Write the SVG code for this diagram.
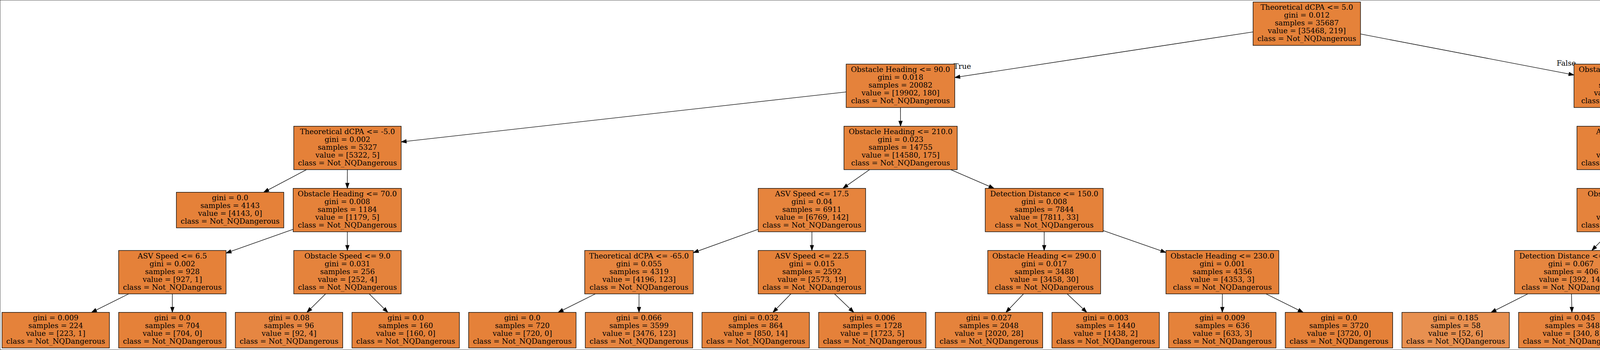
<svg xmlns="http://www.w3.org/2000/svg" width="5960" height="895" viewBox="0 0 5960 895">
<style>
text{font-family:"DejaVu Serif",serif;font-size:18.67px;text-anchor:middle;fill:#000}
rect{stroke:#000;stroke-width:1.33}
.e{fill:none;stroke:#000;stroke-width:1.33;marker-end:url(#ah)}
.lbl{text-anchor:start}
</style>
<defs>
<marker id="ah" markerUnits="userSpaceOnUse" markerWidth="13.3" markerHeight="9.34" refX="13.3" refY="4.67" orient="auto" viewBox="0 0 13.3 9.34" overflow="visible"><path d="M0,0L13.3,4.67L0,9.34z" fill="#000" stroke="#000" stroke-width="1"/></marker>
</defs>
<rect x="0" y="0" width="5960" height="895" fill="#fff" stroke="none"/>
<g id="edges">
<path class="e" d="M3207.9,81.6L2444.2,198.2"/>
<path class="e" d="M3482.9,86.95L4029.4,191.67"/>
<path class="e" d="M2166.2,235.05L1027,362.87"/>
<path class="e" d="M2305.3,274.95L2305.4,322.8"/>
<path class="e" d="M784.5,433.8L675.07,491.65"/>
<path class="e" d="M889.3,433.8L889.2,481.65"/>
<path class="e" d="M750.5,586.28L578.7,647.22"/>
<path class="e" d="M889.2,592.65L889.3,640.5"/>
<path class="e" d="M329.45,751.5L234.21,798.8"/>
<path class="e" d="M441.2,751.5L441.25,798.8"/>
<path class="e" d="M833.51,751.5L785.8,798.8"/>
<path class="e" d="M945.28,751.5L992.82,798.8"/>
<path class="e" d="M2226.19,433.8L2157.81,481.65"/>
<path class="e" d="M2433.97,433.8L2544.73,481.65"/>
<path class="e" d="M1941,586.49L1774.85,646.12"/>
<path class="e" d="M2078.5,592.65L2078.5,640.5"/>
<path class="e" d="M1524.08,751.5L1428.83,798.8"/>
<path class="e" d="M1635.85,751.5L1635.85,798.8"/>
<path class="e" d="M2024.61,751.5L1978.68,798.8"/>
<path class="e" d="M2136.38,751.5L2185.7,798.8"/>
<path class="e" d="M2673.2,592.65L2673.1,640.5"/>
<path class="e" d="M2824.2,589.74L2984.8,645.67"/>
<path class="e" d="M2620.22,751.5L2575.15,798.8"/>
<path class="e" d="M2731.99,751.5L2782.17,798.8"/>
<path class="e" d="M3129.3,751.5L3129.1,798.8"/>
<path class="e" d="M3240.99,751.5L3336.18,798.8"/>
<path class="e" d="M4174.4,274.95L4174.5,322.8"/>
<path class="e" d="M4278.69,274.95L4387.4,332.8"/>
<path class="e" d="M4174.5,433.8L4174.5,481.65"/>
<path class="e" d="M4312,431.4C4462,467.4 4718.5,507 4931.5,524.6"/>
<path class="e" d="M4121.15,592.65L4075.15,640.5"/>
<path class="e" d="M4228.17,592.65L4274.43,640.5"/>
<path class="e" d="M3911.25,751.5L3817.03,798.8"/>
<path class="e" d="M4023.02,751.5L4024.05,798.8"/>
<path class="e" d="M4326.45,751.5L4325.05,798.8"/>
<path class="e" d="M4438.22,751.5L4532.07,798.8"/>
<path class="e" d="M5069,592.65L5069,640.5"/>
<path class="e" d="M5206.5,585.76L5380.8,647.39"/>
<path class="e" d="M5013.61,751.5L4966.41,798.8"/>
<path class="e" d="M5125.38,751.5L5173.43,798.8"/>
<path class="e" d="M5518.3,751.5L5518.3,798.8"/>
<path class="e" d="M5630.07,751.5L5725.32,798.8"/>
<text class="lbl" x="2441.3" y="176">True</text>
<text class="lbl" x="3985" y="168">False</text>
</g>
<g id="node0"><rect x="3207.9" y="5.1" width="275" height="111" fill="#e5823a"/><text y="25.4"><tspan x="3345.4">Theoretical dCPA &lt;= 5.0</tspan><tspan x="3345.4" dy="20">gini = 0.012</tspan><tspan x="3345.4" dy="20">samples = 35687</tspan><tspan x="3345.4" dy="20">value = [35468, 219]</tspan><tspan x="3345.4" dy="20">class = Not_NQDangerous</tspan></text></g>
<g id="node1"><rect x="2166.2" y="163.95" width="278" height="111" fill="#e5823b"/><text y="184.25"><tspan x="2305.2">Obstacle Heading &lt;= 90.0</tspan><tspan x="2305.2" dy="20">gini = 0.018</tspan><tspan x="2305.2" dy="20">samples = 20082</tspan><tspan x="2305.2" dy="20">value = [19902, 180]</tspan><tspan x="2305.2" dy="20">class = Not_NQDangerous</tspan></text></g>
<g id="node26"><rect x="4029.4" y="163.95" width="290" height="111" fill="#e58139"/><text y="184.25"><tspan x="4174.4">Obstacle Heading &lt;= 210.0</tspan><tspan x="4174.4" dy="20">gini = 0.005</tspan><tspan x="4174.4" dy="20">samples = 15605</tspan><tspan x="4174.4" dy="20">value = [15566, 39]</tspan><tspan x="4174.4" dy="20">class = Not_NQDangerous</tspan></text></g>
<g id="node2"><rect x="752" y="322.8" width="275" height="111" fill="#e58139"/><text y="343.1"><tspan x="889.5">Theoretical dCPA &lt;= -5.0</tspan><tspan x="889.5" dy="20">gini = 0.002</tspan><tspan x="889.5" dy="20">samples = 5327</tspan><tspan x="889.5" dy="20">value = [5322, 5]</tspan><tspan x="889.5" dy="20">class = Not_NQDangerous</tspan></text></g>
<g id="node11"><rect x="2160.5" y="322.8" width="290" height="111" fill="#e5833b"/><text y="343.1"><tspan x="2305.5">Obstacle Heading &lt;= 210.0</tspan><tspan x="2305.5" dy="20">gini = 0.023</tspan><tspan x="2305.5" dy="20">samples = 14755</tspan><tspan x="2305.5" dy="20">value = [14580, 175]</tspan><tspan x="2305.5" dy="20">class = Not_NQDangerous</tspan></text></g>
<g id="node27"><rect x="4037" y="322.8" width="275" height="111" fill="#e5823a"/><text y="343.1"><tspan x="4174.5">ASV Speed &lt;= 4.0</tspan><tspan x="4174.5" dy="20">gini = 0.008</tspan><tspan x="4174.5" dy="20">samples = 9517</tspan><tspan x="4174.5" dy="20">value = [9478, 39]</tspan><tspan x="4174.5" dy="20">class = Not_NQDangerous</tspan></text></g>
<g id="node42"><rect x="4335.4" y="332.8" width="275" height="91" fill="#e58139"/><text y="353.1"><tspan x="4472.9">gini = 0.0</tspan><tspan x="4472.9" dy="20">samples = 6088</tspan><tspan x="4472.9" dy="20">value = [6088, 0]</tspan><tspan x="4472.9" dy="20">class = Not_NQDangerous</tspan></text></g>
<g id="node3"><rect x="451.5" y="491.65" width="275" height="91" fill="#e58139"/><text y="511.95"><tspan x="589">gini = 0.0</tspan><tspan x="589" dy="20">samples = 4143</tspan><tspan x="589" dy="20">value = [4143, 0]</tspan><tspan x="589" dy="20">class = Not_NQDangerous</tspan></text></g>
<g id="node4"><rect x="750.5" y="481.65" width="277" height="111" fill="#e5823a"/><text y="501.95"><tspan x="889">Obstacle Heading &lt;= 70.0</tspan><tspan x="889" dy="20">gini = 0.008</tspan><tspan x="889" dy="20">samples = 1184</tspan><tspan x="889" dy="20">value = [1179, 5]</tspan><tspan x="889" dy="20">class = Not_NQDangerous</tspan></text></g>
<g id="node12"><rect x="1941" y="481.65" width="275" height="111" fill="#e6843d"/><text y="501.95"><tspan x="2078.5">ASV Speed &lt;= 17.5</tspan><tspan x="2078.5" dy="20">gini = 0.04</tspan><tspan x="2078.5" dy="20">samples = 6911</tspan><tspan x="2078.5" dy="20">value = [6769, 142]</tspan><tspan x="2078.5" dy="20">class = Not_NQDangerous</tspan></text></g>
<g id="node19"><rect x="2522.2" y="481.65" width="302" height="111" fill="#e5823a"/><text y="501.95"><tspan x="2673.2">Detection Distance &lt;= 150.0</tspan><tspan x="2673.2" dy="20">gini = 0.008</tspan><tspan x="2673.2" dy="20">samples = 7844</tspan><tspan x="2673.2" dy="20">value = [7811, 33]</tspan><tspan x="2673.2" dy="20">class = Not_NQDangerous</tspan></text></g>
<g id="node28"><rect x="4037" y="481.65" width="275" height="111" fill="#e5833c"/><text y="501.95"><tspan x="4174.5">Obstacle Speed &lt;= 9.0</tspan><tspan x="4174.5" dy="20">gini = 0.025</tspan><tspan x="4174.5" dy="20">samples = 1176</tspan><tspan x="4174.5" dy="20">value = [1161, 15]</tspan><tspan x="4174.5" dy="20">class = Not_NQDangerous</tspan></text></g>
<g id="node35"><rect x="4931.5" y="481.65" width="275" height="111" fill="#e5813a"/><text y="501.95"><tspan x="5069">Theoretical dCPA &lt;= 35.0</tspan><tspan x="5069" dy="20">gini = 0.006</tspan><tspan x="5069" dy="20">samples = 8341</tspan><tspan x="5069" dy="20">value = [8317, 24]</tspan><tspan x="5069" dy="20">class = Not_NQDangerous</tspan></text></g>
<g id="node5"><rect x="303.7" y="640.5" width="275" height="111" fill="#e58139"/><text y="660.8"><tspan x="441.2">ASV Speed &lt;= 6.5</tspan><tspan x="441.2" dy="20">gini = 0.002</tspan><tspan x="441.2" dy="20">samples = 928</tspan><tspan x="441.2" dy="20">value = [927, 1]</tspan><tspan x="441.2" dy="20">class = Not_NQDangerous</tspan></text></g>
<g id="node8"><rect x="752" y="640.5" width="275" height="111" fill="#e5833c"/><text y="660.8"><tspan x="889.5">Obstacle Speed &lt;= 9.0</tspan><tspan x="889.5" dy="20">gini = 0.031</tspan><tspan x="889.5" dy="20">samples = 256</tspan><tspan x="889.5" dy="20">value = [252, 4]</tspan><tspan x="889.5" dy="20">class = Not_NQDangerous</tspan></text></g>
<g id="node13"><rect x="1496.85" y="640.5" width="278" height="111" fill="#e6853f"/><text y="660.8"><tspan x="1635.85">Theoretical dCPA &lt;= -65.0</tspan><tspan x="1635.85" dy="20">gini = 0.055</tspan><tspan x="1635.85" dy="20">samples = 4319</tspan><tspan x="1635.85" dy="20">value = [4196, 123]</tspan><tspan x="1635.85" dy="20">class = Not_NQDangerous</tspan></text></g>
<g id="node16"><rect x="1941" y="640.5" width="275" height="111" fill="#e5823a"/><text y="660.8"><tspan x="2078.5">ASV Speed &lt;= 22.5</tspan><tspan x="2078.5" dy="20">gini = 0.015</tspan><tspan x="2078.5" dy="20">samples = 2592</tspan><tspan x="2078.5" dy="20">value = [2573, 19]</tspan><tspan x="2078.5" dy="20">class = Not_NQDangerous</tspan></text></g>
<g id="node20"><rect x="2528.6" y="640.5" width="289" height="111" fill="#e5823b"/><text y="660.8"><tspan x="2673.1">Obstacle Heading &lt;= 290.0</tspan><tspan x="2673.1" dy="20">gini = 0.017</tspan><tspan x="2673.1" dy="20">samples = 3488</tspan><tspan x="2673.1" dy="20">value = [3458, 30]</tspan><tspan x="2673.1" dy="20">class = Not_NQDangerous</tspan></text></g>
<g id="node23"><rect x="2984.8" y="640.5" width="289" height="111" fill="#e58139"/><text y="660.8"><tspan x="3129.3">Obstacle Heading &lt;= 230.0</tspan><tspan x="3129.3" dy="20">gini = 0.001</tspan><tspan x="3129.3" dy="20">samples = 4356</tspan><tspan x="3129.3" dy="20">value = [4353, 3]</tspan><tspan x="3129.3" dy="20">class = Not_NQDangerous</tspan></text></g>
<g id="node29"><rect x="3877.3" y="640.5" width="289" height="111" fill="#e68640"/><text y="660.8"><tspan x="4021.8">Detection Distance &lt;= 75.0</tspan><tspan x="4021.8" dy="20">gini = 0.067</tspan><tspan x="4021.8" dy="20">samples = 406</tspan><tspan x="4021.8" dy="20">value = [392, 14]</tspan><tspan x="4021.8" dy="20">class = Not_NQDangerous</tspan></text></g>
<g id="node32"><rect x="4190.6" y="640.5" width="275" height="111" fill="#e58139"/><text y="660.8"><tspan x="4328.1">Obstacle Speed &lt;= 12.5</tspan><tspan x="4328.1" dy="20">gini = 0.003</tspan><tspan x="4328.1" dy="20">samples = 770</tspan><tspan x="4328.1" dy="20">value = [769, 1]</tspan><tspan x="4328.1" dy="20">class = Not_NQDangerous</tspan></text></g>
<g id="node36"><rect x="4930.5" y="640.5" width="277" height="111" fill="#e5823a"/><text y="660.8"><tspan x="5069">Obstacle Heading &lt;= 90.0</tspan><tspan x="5069" dy="20">gini = 0.01</tspan><tspan x="5069" dy="20">samples = 4767</tspan><tspan x="5069" dy="20">value = [4744, 23]</tspan><tspan x="5069" dy="20">class = Not_NQDangerous</tspan></text></g>
<g id="node39"><rect x="5380.8" y="640.5" width="275" height="111" fill="#e58139"/><text y="660.8"><tspan x="5518.3">ASV Speed &lt;= 22.5</tspan><tspan x="5518.3" dy="20">gini = 0.001</tspan><tspan x="5518.3" dy="20">samples = 3574</tspan><tspan x="5518.3" dy="20">value = [3573, 1]</tspan><tspan x="5518.3" dy="20">class = Not_NQDangerous</tspan></text></g>
<g id="node6"><rect x="5.1" y="798.8" width="275" height="91" fill="#e5823a"/><text y="819.1"><tspan x="142.6">gini = 0.009</tspan><tspan x="142.6" dy="20">samples = 224</tspan><tspan x="142.6" dy="20">value = [223, 1]</tspan><tspan x="142.6" dy="20">class = Not_NQDangerous</tspan></text></g>
<g id="node7"><rect x="303.75" y="798.8" width="275" height="91" fill="#e58139"/><text y="819.1"><tspan x="441.25">gini = 0.0</tspan><tspan x="441.25" dy="20">samples = 704</tspan><tspan x="441.25" dy="20">value = [704, 0]</tspan><tspan x="441.25" dy="20">class = Not_NQDangerous</tspan></text></g>
<g id="node9"><rect x="602.4" y="798.8" width="275" height="91" fill="#e68642"/><text y="819.1"><tspan x="739.9">gini = 0.08</tspan><tspan x="739.9" dy="20">samples = 96</tspan><tspan x="739.9" dy="20">value = [92, 4]</tspan><tspan x="739.9" dy="20">class = Not_NQDangerous</tspan></text></g>
<g id="node10"><rect x="901.05" y="798.8" width="275" height="91" fill="#e58139"/><text y="819.1"><tspan x="1038.55">gini = 0.0</tspan><tspan x="1038.55" dy="20">samples = 160</tspan><tspan x="1038.55" dy="20">value = [160, 0]</tspan><tspan x="1038.55" dy="20">class = Not_NQDangerous</tspan></text></g>
<g id="node14"><rect x="1199.7" y="798.8" width="275" height="91" fill="#e58139"/><text y="819.1"><tspan x="1337.2">gini = 0.0</tspan><tspan x="1337.2" dy="20">samples = 720</tspan><tspan x="1337.2" dy="20">value = [720, 0]</tspan><tspan x="1337.2" dy="20">class = Not_NQDangerous</tspan></text></g>
<g id="node15"><rect x="1498.35" y="798.8" width="275" height="91" fill="#e68540"/><text y="819.1"><tspan x="1635.85">gini = 0.066</tspan><tspan x="1635.85" dy="20">samples = 3599</tspan><tspan x="1635.85" dy="20">value = [3476, 123]</tspan><tspan x="1635.85" dy="20">class = Not_NQDangerous</tspan></text></g>
<g id="node17"><rect x="1797" y="798.8" width="275" height="91" fill="#e5833c"/><text y="819.1"><tspan x="1934.5">gini = 0.032</tspan><tspan x="1934.5" dy="20">samples = 864</tspan><tspan x="1934.5" dy="20">value = [850, 14]</tspan><tspan x="1934.5" dy="20">class = Not_NQDangerous</tspan></text></g>
<g id="node18"><rect x="2095.65" y="798.8" width="275" height="91" fill="#e5813a"/><text y="819.1"><tspan x="2233.15">gini = 0.006</tspan><tspan x="2233.15" dy="20">samples = 1728</tspan><tspan x="2233.15" dy="20">value = [1723, 5]</tspan><tspan x="2233.15" dy="20">class = Not_NQDangerous</tspan></text></g>
<g id="node21"><rect x="2394.3" y="798.8" width="275" height="91" fill="#e5833c"/><text y="819.1"><tspan x="2531.8">gini = 0.027</tspan><tspan x="2531.8" dy="20">samples = 2048</tspan><tspan x="2531.8" dy="20">value = [2020, 28]</tspan><tspan x="2531.8" dy="20">class = Not_NQDangerous</tspan></text></g>
<g id="node22"><rect x="2692.95" y="798.8" width="275" height="91" fill="#e58139"/><text y="819.1"><tspan x="2830.45">gini = 0.003</tspan><tspan x="2830.45" dy="20">samples = 1440</tspan><tspan x="2830.45" dy="20">value = [1438, 2]</tspan><tspan x="2830.45" dy="20">class = Not_NQDangerous</tspan></text></g>
<g id="node24"><rect x="2991.6" y="798.8" width="275" height="91" fill="#e5823a"/><text y="819.1"><tspan x="3129.1">gini = 0.009</tspan><tspan x="3129.1" dy="20">samples = 636</tspan><tspan x="3129.1" dy="20">value = [633, 3]</tspan><tspan x="3129.1" dy="20">class = Not_NQDangerous</tspan></text></g>
<g id="node25"><rect x="3290.25" y="798.8" width="275" height="91" fill="#e58139"/><text y="819.1"><tspan x="3427.75">gini = 0.0</tspan><tspan x="3427.75" dy="20">samples = 3720</tspan><tspan x="3427.75" dy="20">value = [3720, 0]</tspan><tspan x="3427.75" dy="20">class = Not_NQDangerous</tspan></text></g>
<g id="node30"><rect x="3588.9" y="798.8" width="275" height="91" fill="#e89050"/><text y="819.1"><tspan x="3726.4">gini = 0.185</tspan><tspan x="3726.4" dy="20">samples = 58</tspan><tspan x="3726.4" dy="20">value = [52, 6]</tspan><tspan x="3726.4" dy="20">class = Not_NQDangerous</tspan></text></g>
<g id="node31"><rect x="3887.55" y="798.8" width="275" height="91" fill="#e6843e"/><text y="819.1"><tspan x="4025.05">gini = 0.045</tspan><tspan x="4025.05" dy="20">samples = 348</tspan><tspan x="4025.05" dy="20">value = [340, 8]</tspan><tspan x="4025.05" dy="20">class = Not_NQDangerous</tspan></text></g>
<g id="node33"><rect x="4186.2" y="798.8" width="275" height="91" fill="#e5823a"/><text y="819.1"><tspan x="4323.7">gini = 0.013</tspan><tspan x="4323.7" dy="20">samples = 154</tspan><tspan x="4323.7" dy="20">value = [153, 1]</tspan><tspan x="4323.7" dy="20">class = Not_NQDangerous</tspan></text></g>
<g id="node34"><rect x="4484.85" y="798.8" width="275" height="91" fill="#e58139"/><text y="819.1"><tspan x="4622.35">gini = 0.0</tspan><tspan x="4622.35" dy="20">samples = 616</tspan><tspan x="4622.35" dy="20">value = [616, 0]</tspan><tspan x="4622.35" dy="20">class = Not_NQDangerous</tspan></text></g>
<g id="node37"><rect x="4783.5" y="798.8" width="275" height="91" fill="#e58139"/><text y="819.1"><tspan x="4921">gini = 0.003</tspan><tspan x="4921" dy="20">samples = 2079</tspan><tspan x="4921" dy="20">value = [2076, 3]</tspan><tspan x="4921" dy="20">class = Not_NQDangerous</tspan></text></g>
<g id="node38"><rect x="5082.15" y="798.8" width="275" height="91" fill="#e5823a"/><text y="819.1"><tspan x="5219.65">gini = 0.015</tspan><tspan x="5219.65" dy="20">samples = 2688</tspan><tspan x="5219.65" dy="20">value = [2668, 20]</tspan><tspan x="5219.65" dy="20">class = Not_NQDangerous</tspan></text></g>
<g id="node40"><rect x="5380.8" y="798.8" width="275" height="91" fill="#e58139"/><text y="819.1"><tspan x="5518.3">gini = 0.0</tspan><tspan x="5518.3" dy="20">samples = 2542</tspan><tspan x="5518.3" dy="20">value = [2542, 0]</tspan><tspan x="5518.3" dy="20">class = Not_NQDangerous</tspan></text></g>
<g id="node41"><rect x="5679.45" y="798.8" width="275" height="91" fill="#e58139"/><text y="819.1"><tspan x="5816.95">gini = 0.002</tspan><tspan x="5816.95" dy="20">samples = 1032</tspan><tspan x="5816.95" dy="20">value = [1031, 1]</tspan><tspan x="5816.95" dy="20">class = Not_NQDangerous</tspan></text></g>
</svg>
